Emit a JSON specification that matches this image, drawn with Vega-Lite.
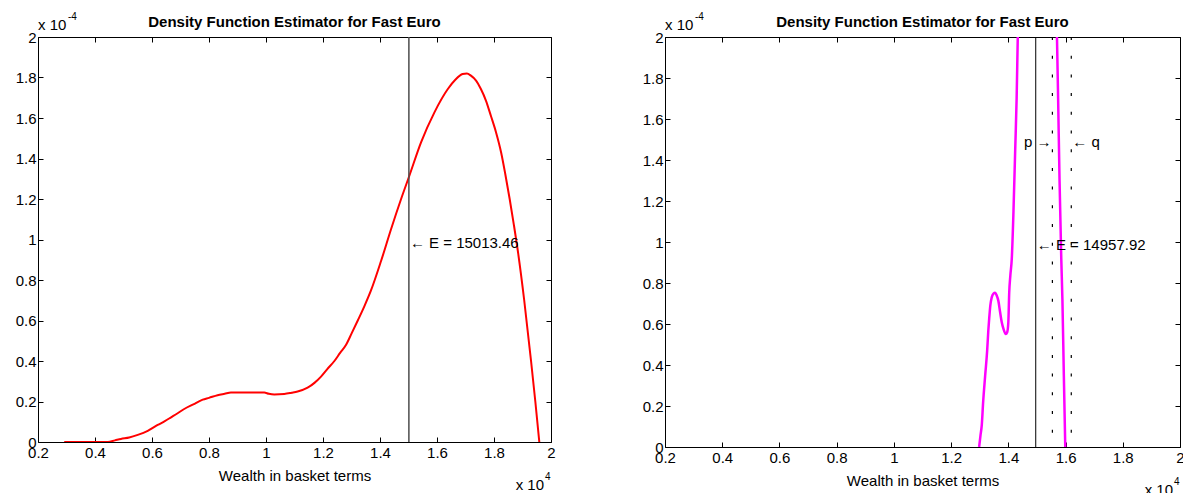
{
  "$schema": "https://vega.github.io/schema/vega-lite/v6.json",
  "background": "white",
  "padding": {"left": 14, "top": 11, "right": 0, "bottom": 0},
  "datasets": {
    "fast": [
      {"w": 0.292, "d": 0}, {"w": 0.35, "d": 0}, {"w": 0.40, "d": 0}, {"w": 0.445, "d": 0},
      {"w": 0.47, "d": 0.008}, {"w": 0.491, "d": 0.015}, {"w": 0.52, "d": 0.022}, {"w": 0.55, "d": 0.035},
      {"w": 0.585, "d": 0.055}, {"w": 0.62, "d": 0.084}, {"w": 0.645, "d": 0.103}, {"w": 0.667, "d": 0.122},
      {"w": 0.69, "d": 0.142}, {"w": 0.713, "d": 0.163}, {"w": 0.745, "d": 0.186}, {"w": 0.778, "d": 0.209},
      {"w": 0.80, "d": 0.218}, {"w": 0.83, "d": 0.231}, {"w": 0.855, "d": 0.238}, {"w": 0.877, "d": 0.244},
      {"w": 0.92, "d": 0.245}, {"w": 0.96, "d": 0.245}, {"w": 0.994, "d": 0.244}, {"w": 1.01, "d": 0.238},
      {"w": 1.029, "d": 0.235}, {"w": 1.064, "d": 0.237}, {"w": 1.09, "d": 0.243}, {"w": 1.111, "d": 0.249},
      {"w": 1.146, "d": 0.268}, {"w": 1.17, "d": 0.292}, {"w": 1.193, "d": 0.323}, {"w": 1.215, "d": 0.36},
      {"w": 1.24, "d": 0.40}, {"w": 1.26, "d": 0.44}, {"w": 1.281, "d": 0.48}, {"w": 1.30, "d": 0.535},
      {"w": 1.322, "d": 0.60}, {"w": 1.345, "d": 0.67}, {"w": 1.368, "d": 0.747}, {"w": 1.404, "d": 0.895},
      {"w": 1.439, "d": 1.052}, {"w": 1.474, "d": 1.20}, {"w": 1.503, "d": 1.315}, {"w": 1.544, "d": 1.48},
      {"w": 1.591, "d": 1.628}, {"w": 1.638, "d": 1.743}, {"w": 1.665, "d": 1.79}, {"w": 1.69, "d": 1.817},
      {"w": 1.705, "d": 1.82}, {"w": 1.719, "d": 1.809}, {"w": 1.737, "d": 1.785}, {"w": 1.754, "d": 1.743},
      {"w": 1.772, "d": 1.685}, {"w": 1.789, "d": 1.611}, {"w": 1.807, "d": 1.53}, {"w": 1.825, "d": 1.43},
      {"w": 1.84, "d": 1.32}, {"w": 1.855, "d": 1.20}, {"w": 1.87, "d": 1.07}, {"w": 1.885, "d": 0.93},
      {"w": 1.906, "d": 0.70}, {"w": 1.93, "d": 0.40}, {"w": 1.945, "d": 0.2}, {"w": 1.959, "d": 0}
    ],
    "fast2": [
      {"w": 1.298, "d": 0}, {"w": 1.303, "d": 0.06}, {"w": 1.307, "d": 0.104}, {"w": 1.312, "d": 0.22},
      {"w": 1.319, "d": 0.348}, {"w": 1.326, "d": 0.47}, {"w": 1.330, "d": 0.567}, {"w": 1.333, "d": 0.624},
      {"w": 1.337, "d": 0.69}, {"w": 1.342, "d": 0.73}, {"w": 1.348, "d": 0.748}, {"w": 1.354, "d": 0.752},
      {"w": 1.359, "d": 0.74}, {"w": 1.365, "d": 0.714}, {"w": 1.371, "d": 0.66}, {"w": 1.377, "d": 0.608},
      {"w": 1.383, "d": 0.576}, {"w": 1.391, "d": 0.551}, {"w": 1.396, "d": 0.56}, {"w": 1.400, "d": 0.608},
      {"w": 1.403, "d": 0.75}, {"w": 1.407, "d": 0.836}, {"w": 1.412, "d": 0.917}, {"w": 1.418, "d": 1.15},
      {"w": 1.424, "d": 1.45}, {"w": 1.429, "d": 1.70}, {"w": 1.433, "d": 2.0}, {"w": 1.45, "d": 2.8},
      {"w": 1.5, "d": 4.0}, {"w": 1.55, "d": 2.8}, {"w": 1.570, "d": 2.0}, {"w": 1.574, "d": 1.70},
      {"w": 1.579, "d": 1.3}, {"w": 1.585, "d": 0.92}, {"w": 1.589, "d": 0.72}, {"w": 1.594, "d": 0.35},
      {"w": 1.599, "d": 0}
    ],
    "frame": [{"w": 1, "d": 1}],
    "lines1": [{"w": 1.501346, "kind": "E"}],
    "lines2": [{"w": 1.495792, "kind": "E"}, {"w": 1.554, "kind": "p"}, {"w": 1.620, "kind": "q"}],
    "notes1": [{"w": 1.501346, "d": 0.985, "label": "← E = 15013.46"}],
    "notes2": [{"w": 1.495792, "d": 0.985, "label": "← E = 14957.92"}, {"w": 1.620, "d": 1.488, "label": "← q"}],
    "notes2p": [{"w": 1.554, "d": 1.488, "label": "p →"}]
  },
  "config": {
    "font": "Liberation Sans",
    "view": {"stroke": "black", "strokeWidth": 1},
    "axis": {
      "labelFont": "Liberation Sans", "labelFontSize": 15, "labelColor": "black", "labelFlush": false, "labelOverlap": false,
      "titleFont": "Liberation Sans", "titleFontSize": 15, "titleFontWeight": "normal", "titleColor": "black",
      "tickColor": "black", "tickSize": -5, "tickWidth": 1, "domain": false, "grid": false
    },
    "title": {"font": "Liberation Sans", "fontSize": 15, "fontWeight": "bold", "color": "black", "offset": -18}
  },
  "hconcat": [
    {
      "width": 513, "height": 405,
      "title": "Density Function Estimator for Fast Euro",
      "layer": [
        {
          "layer": [
            {
              "data": {"name": "fast"},
              "mark": {"type": "line", "color": "#ff0000", "strokeWidth": 2, "clip": true, "interpolate": "monotone"},
              "encoding": {
                "x": {"field": "w", "type": "quantitative", "scale": {"domain": [0.2, 2], "nice": false, "zero": false},
                      "axis": {"orient": "bottom", "values": [0.2,0.4,0.6,0.8,1,1.2,1.4,1.6,1.8,2], "format": "~g", "labelPadding": 8, "title": "Wealth in basket terms", "titlePadding": 8}},
                "y": {"field": "d", "type": "quantitative", "scale": {"domain": [0, 2], "nice": false},
                      "axis": {"orient": "left", "values": [0,0.2,0.4,0.6,0.8,1,1.2,1.4,1.6,1.8,2], "format": "~g", "labelPadding": 7, "title": null}}
              }
            },
            {
              "data": {"name": "lines1"},
              "mark": {"type": "rule", "color": "#4d4d4d", "strokeWidth": 1.5},
              "encoding": {"x": {"field": "w", "type": "quantitative"}}
            },
            {
              "data": {"name": "notes1"},
              "mark": {"type": "text", "align": "left", "baseline": "middle", "fontSize": 15, "dx": 1, "color": "black"},
              "encoding": {"x": {"field": "w", "type": "quantitative"}, "y": {"field": "d", "type": "quantitative"}, "text": {"field": "label"}}
            },
            {
              "data": {"values": [{"t": "x 10"}]},
              "mark": {"type": "text", "align": "left", "baseline": "middle", "fontSize": 15, "dy": -12, "color": "black"},
              "encoding": {"x": {"datum": 0.2}, "y": {"datum": 2}, "text": {"field": "t"}}
            },
            {
              "data": {"values": [{"t": "-4"}]},
              "mark": {"type": "text", "align": "left", "baseline": "middle", "fontSize": 10, "dx": 30, "dy": -20, "color": "black"},
              "encoding": {"x": {"datum": 0.2}, "y": {"datum": 2}, "text": {"field": "t"}}
            },
            {
              "data": {"values": [{"t": "x 10"}]},
              "mark": {"type": "text", "align": "right", "baseline": "middle", "fontSize": 15, "dx": -7, "dy": 43, "color": "black"},
              "encoding": {"x": {"datum": 2}, "y": {"datum": 0}, "text": {"field": "t"}}
            },
            {
              "data": {"values": [{"t": "4"}]},
              "mark": {"type": "text", "align": "left", "baseline": "middle", "fontSize": 10, "dx": -6, "dy": 35, "color": "black"},
              "encoding": {"x": {"datum": 2}, "y": {"datum": 0}, "text": {"field": "t"}}
            }
          ]
        },
        {
          "data": {"name": "frame"},
          "mark": {"type": "point", "opacity": 0},
          "encoding": {
            "x": {"field": "w", "type": "quantitative", "scale": {"domain": [0.2, 2], "nice": false, "zero": false},
                  "axis": {"orient": "top", "values": [0.2,0.4,0.6,0.8,1,1.2,1.4,1.6,1.8,2], "labels": false, "title": null}},
            "y": {"field": "d", "type": "quantitative", "scale": {"domain": [0, 2], "nice": false},
                  "axis": {"orient": "right", "values": [0,0.2,0.4,0.6,0.8,1,1.2,1.4,1.6,1.8,2], "labels": false, "title": null}}
          }
        }
      ],
      "resolve": {"scale": {"x": "independent", "y": "independent"}}
    },
    {
      "width": 515, "height": 410,
      "title": "Density Function Estimator for Fast Euro",
      "layer": [
        {
          "layer": [
            {
              "data": {"name": "fast2"},
              "mark": {"type": "line", "color": "#ff00ff", "strokeWidth": 2.5, "clip": true, "interpolate": "monotone"},
              "encoding": {
                "x": {"field": "w", "type": "quantitative", "scale": {"domain": [0.2, 2], "nice": false, "zero": false},
                      "axis": {"orient": "bottom", "values": [0.2,0.4,0.6,0.8,1,1.2,1.4,1.6,1.8,2], "format": "~g", "labelPadding": 8, "title": "Wealth in basket terms", "titlePadding": 8}},
                "y": {"field": "d", "type": "quantitative", "scale": {"domain": [0, 2], "nice": false},
                      "axis": {"orient": "left", "values": [0,0.2,0.4,0.6,0.8,1,1.2,1.4,1.6,1.8,2], "format": "~g", "labelPadding": 7, "title": null}}
              }
            },
            {
              "data": {"name": "lines2"},
              "mark": {"type": "rule", "color": "black", "strokeWidth": 1},
              "transform": [{"filter": "datum.kind === 'E'"}],
              "encoding": {"x": {"field": "w", "type": "quantitative"}}
            },
            {
              "data": {"name": "lines2"},
              "mark": {"type": "rule", "color": "black", "strokeWidth": 1.2, "strokeDash": [3, 15.7]},
              "transform": [{"filter": "datum.kind !== 'E'"}],
              "encoding": {"x": {"field": "w", "type": "quantitative"}}
            },
            {
              "data": {"name": "notes2"},
              "mark": {"type": "text", "align": "left", "baseline": "middle", "fontSize": 15, "dx": 1, "color": "black"},
              "encoding": {"x": {"field": "w", "type": "quantitative"}, "y": {"field": "d", "type": "quantitative"}, "text": {"field": "label"}}
            },
            {
              "data": {"name": "notes2p"},
              "mark": {"type": "text", "align": "right", "baseline": "middle", "fontSize": 15, "dx": -1, "color": "black"},
              "encoding": {"x": {"field": "w", "type": "quantitative"}, "y": {"field": "d", "type": "quantitative"}, "text": {"field": "label"}}
            },
            {
              "data": {"values": [{"t": "x 10"}]},
              "mark": {"type": "text", "align": "left", "baseline": "middle", "fontSize": 15, "dy": -12, "color": "black"},
              "encoding": {"x": {"datum": 0.2}, "y": {"datum": 2}, "text": {"field": "t"}}
            },
            {
              "data": {"values": [{"t": "-4"}]},
              "mark": {"type": "text", "align": "left", "baseline": "middle", "fontSize": 10, "dx": 30, "dy": -20, "color": "black"},
              "encoding": {"x": {"datum": 0.2}, "y": {"datum": 2}, "text": {"field": "t"}}
            },
            {
              "data": {"values": [{"t": "x 10"}]},
              "mark": {"type": "text", "align": "right", "baseline": "middle", "fontSize": 15, "dx": -7, "dy": 43, "color": "black"},
              "encoding": {"x": {"datum": 2}, "y": {"datum": 0}, "text": {"field": "t"}}
            },
            {
              "data": {"values": [{"t": "4"}]},
              "mark": {"type": "text", "align": "left", "baseline": "middle", "fontSize": 10, "dx": -6, "dy": 35, "color": "black"},
              "encoding": {"x": {"datum": 2}, "y": {"datum": 0}, "text": {"field": "t"}}
            }
          ]
        },
        {
          "data": {"name": "frame"},
          "mark": {"type": "point", "opacity": 0},
          "encoding": {
            "x": {"field": "w", "type": "quantitative", "scale": {"domain": [0.2, 2], "nice": false, "zero": false},
                  "axis": {"orient": "top", "values": [0.2,0.4,0.6,0.8,1,1.2,1.4,1.6,1.8,2], "labels": false, "title": null}},
            "y": {"field": "d", "type": "quantitative", "scale": {"domain": [0, 2], "nice": false},
                  "axis": {"orient": "right", "values": [0,0.2,0.4,0.6,0.8,1,1.2,1.4,1.6,1.8,2], "labels": false, "title": null}}
          }
        }
      ],
      "resolve": {"scale": {"x": "independent", "y": "independent"}}
    }
  ],
  "spacing": 85
}
